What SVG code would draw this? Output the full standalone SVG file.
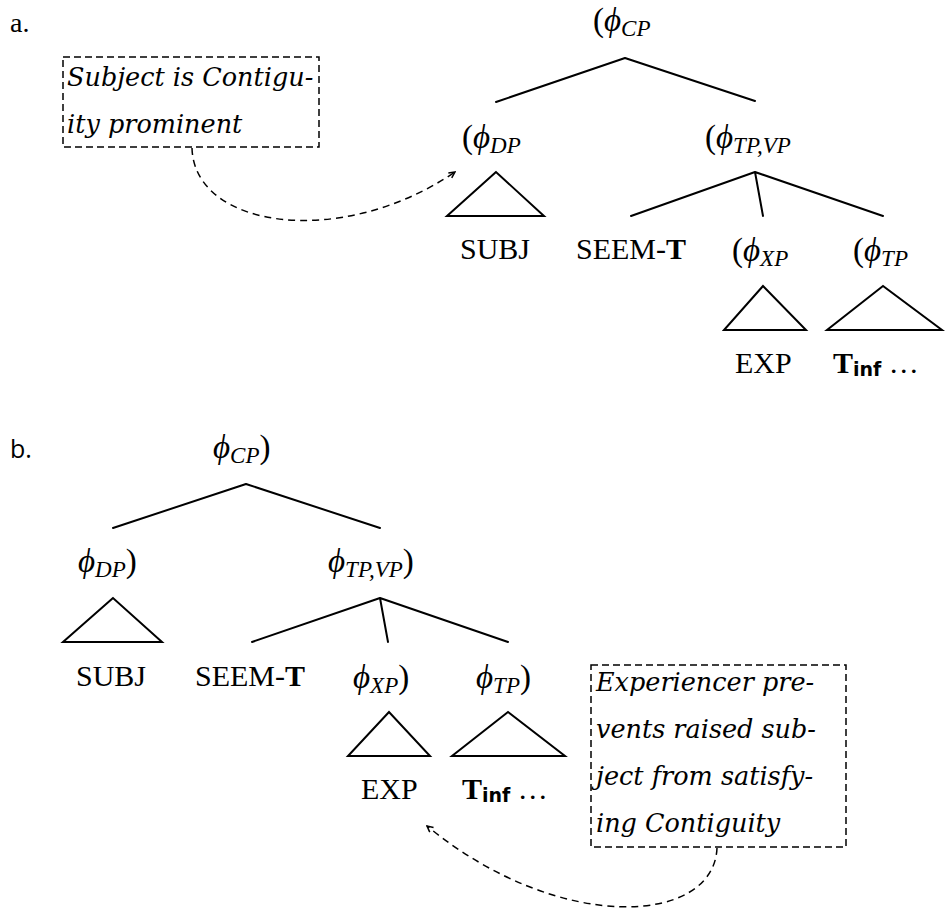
<svg xmlns="http://www.w3.org/2000/svg" width="948" height="914" viewBox="0 0 948 914">
<style>
.bg{fill:#fff}
.ln{stroke:#000;stroke-width:2;fill:none;stroke-linecap:round;stroke-linejoin:round}
.tri{stroke:#000;stroke-width:2;fill:none;stroke-linejoin:miter}
.box{stroke:#000;stroke-width:1.5;fill:none;stroke-dasharray:7 4}
.dash{stroke:#000;stroke-width:1.5;fill:none;stroke-dasharray:7 5}
.m{font-family:"Liberation Serif","DejaVu Serif",serif;font-style:italic;font-size:33px;fill:#000}
.up{font-style:normal}
.sub{font-size:23px}
.w{font-family:"Liberation Serif","DejaVu Serif",serif;font-size:30px;fill:#000}
.b{font-weight:bold}
.inf{font-family:"DejaVu Sans","Liberation Sans",sans-serif;font-weight:bold;font-size:19px}
.it{font-family:"DejaVu Serif","Liberation Serif",serif;font-style:italic;font-size:25.5px;fill:#000}
.lab{font-family:"Liberation Serif",serif;font-size:28px;fill:#000}
.labs{font-family:"Open Sans","DejaVu Sans",sans-serif;font-size:25px;fill:#000}
</style>
<defs>
<marker id="ah" markerWidth="8" markerHeight="8" refX="7" refY="4" orient="auto" markerUnits="userSpaceOnUse">
<path d="M1,1 L7,4 L1,7" fill="none" stroke="#000" stroke-width="1.5"/>
</marker>
</defs>
<rect class="bg" x="0" y="0" width="948" height="914"/>

<g id="label-a"><text class="lab" x="10" y="32">a.</text></g>
<g id="label-b"><text class="labs" x="10" y="458">b.</text></g>

<!-- Part a -->
<g id="note-a">
<rect class="box" x="63" y="57" width="256" height="90"/>
<text class="it" x="67" y="86">Subject is Contigu-</text>
<text class="it" x="67" y="133">ity prominent</text>
</g>
<g id="a-cp"><text class="m" x="593" y="31"><tspan class="up">(</tspan>ϕ<tspan class="sub" dy="5">CP</tspan></text></g>
<g id="a-dp"><text class="m" x="462" y="148"><tspan class="up">(</tspan>ϕ<tspan class="sub" dy="5">DP</tspan></text>
<path class="tri" d="M496,172 L447,216 L544,216 Z"/></g>
<g id="a-tpvp"><text class="m" x="705" y="148"><tspan class="up">(</tspan>ϕ<tspan class="sub" dy="5">TP,VP</tspan></text></g>
<g id="a-subj"><text class="w" x="460" y="259">SUBJ</text></g>
<g id="a-seem"><text class="w" x="576" y="259">SEEM-<tspan class="b">T</tspan></text></g>
<g id="a-xp"><text class="m" x="732" y="261"><tspan class="up">(</tspan>ϕ<tspan class="sub" dy="5">XP</tspan></text>
<path class="tri" d="M763,286 L724,330 L806,330 Z"/></g>
<g id="a-tp"><text class="m" x="853" y="261"><tspan class="up">(</tspan>ϕ<tspan class="sub" dy="5">TP</tspan></text>
<path class="tri" d="M883,286 L827,330 L942,330 Z"/></g>
<g id="a-exp"><text class="w" x="735" y="373">EXP</text></g>
<g id="a-tinf"><text class="w" x="833" y="373"><tspan class="b">T</tspan><tspan class="inf" dy="3">inf</tspan><tspan dy="-3"> …</tspan></text></g>

<!-- Part b -->
<g id="b-cp"><text class="m" x="213" y="458">ϕ<tspan class="sub" dy="5">CP</tspan><tspan class="up" dy="-5">)</tspan></text></g>
<g id="b-dp"><text class="m" x="78" y="572">ϕ<tspan class="sub" dy="5">DP</tspan><tspan class="up" dy="-5">)</tspan></text>
<path class="tri" d="M113,598 L63,642 L162,642 Z"/></g>
<g id="b-tpvp"><text class="m" x="328" y="572">ϕ<tspan class="sub" dy="5">TP,VP</tspan><tspan class="up" dy="-5">)</tspan></text></g>
<g id="b-subj"><text class="w" x="76" y="686">SUBJ</text></g>
<g id="b-seem"><text class="w" x="195" y="686">SEEM-<tspan class="b">T</tspan></text></g>
<g id="b-xp"><text class="m" x="353" y="688">ϕ<tspan class="sub" dy="5">XP</tspan><tspan class="up" dy="-5">)</tspan></text>
<path class="tri" d="M389,712 L348,756 L430,756 Z"/></g>
<g id="b-tp"><text class="m" x="476" y="688">ϕ<tspan class="sub" dy="5">TP</tspan><tspan class="up" dy="-5">)</tspan></text>
<path class="tri" d="M508,712 L452,756 L565,756 Z"/></g>
<g id="b-exp"><text class="w" x="361" y="799">EXP</text></g>
<g id="b-tinf"><text class="w" x="462" y="799"><tspan class="b">T</tspan><tspan class="inf" dy="3">inf</tspan><tspan dy="-3"> …</tspan></text></g>
<g id="note-b">
<rect class="box" x="591" y="665" width="255" height="182"/>
<text class="it" x="596" y="691">Experiencer pre-</text>
<text class="it" x="596" y="738">vents raised sub-</text>
<text class="it" x="596" y="785">ject from satisfy-</text>
<text class="it" x="596" y="832">ing Contiguity</text>
</g>

<g id="connectors">
<path class="ln" d="M625,58 L496,102 M625,58 L755,101"/>
<path class="ln" d="M755,172 L631,216 M755,172 L763,216 M755,172 L883,216"/>
<path class="ln" d="M246,484 L113,528 M246,484 L380,528"/>
<path class="ln" d="M380,598 L252,642 M380,598 L388,642 M380,598 L508,642"/>
<path class="dash" d="M192,148 C194,228 340,250 455,172" marker-end="url(#ah)"/>
<path class="dash" d="M717,848 C714,925 560,935 427,826" marker-end="url(#ah)"/>
</g>
</svg>
